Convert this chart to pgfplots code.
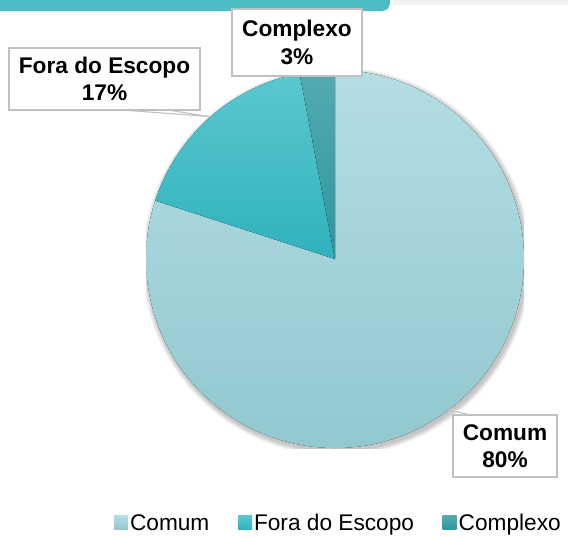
\documentclass[border=0pt]{standalone}
\usepackage{fontspec}
\setmainfont{Liberation Sans}
\usepackage{pgfplots}
\usepackage{pgfplotstable}
\pgfplotsset{compat=1.18}

\definecolor{top0}{HTML}{B3DEE3}
\definecolor{bot0}{HTML}{92C8CF}
\definecolor{top1}{HTML}{5BC7CF}
\definecolor{bot1}{HTML}{2FB2BD}
\definecolor{top2}{HTML}{55AAB1}
\definecolor{bot2}{HTML}{2D979F}
\definecolor{barteal}{HTML}{4ABDC7}
\definecolor{bandgray}{HTML}{F2F2F2}
\definecolor{boxgray}{HTML}{C0C0C0}

\pgfplotstableread{
label value
Comum 80
Fora 17
Complexo 3
}\piedata

\newcommand{\R}{141.75pt}

\begin{document}
\begin{tikzpicture}
\useasboundingbox (0pt,0pt) rectangle (426pt,-402pt);

% header remnants at the top
\begin{scope}[x=0.75pt, y=-0.75pt]
  \fill[barteal, rounded corners=6pt] (-20,-20) rectangle (390,11);
  \fill[bandgray] (393,-5) rectangle (580,5);
\end{scope}

\begin{axis}[
    at={(251.25pt,-194.25pt)}, anchor=center,
    scale only axis,
    width=283.5pt, height=283.5pt,
    xmin=-1, xmax=1, ymin=-1, ymax=1,
    hide axis,
    legend columns=3,
    legend cell align=left,
    legend style={
        at={(0.509,-0.199)}, anchor=center,
        draw=none, fill=none,
        font=\fontsize{17}{19}\selectfont,
        nodes={inner sep=1.5pt},
        /tikz/every odd column/.append style={column sep=0pt},
        /tikz/every even column/.append style={column sep=20pt},
    },
]

\pgfplotsextra{
  \path (axis cs:0,0) coordinate (C);
  % soft shadow
  \foreach \k in {1,...,8}{
    \fill[black, opacity=0.03] ([xshift=1.2pt, yshift=-1.8pt]C) circle[radius=\R+\k*0.5pt];
  }
  \pgfplotstablegetrowsof{\piedata}
  \pgfmathtruncatemacro\nrows{\pgfplotsretval-1}
  \gdef\startang{90}
  \foreach \i in {0,...,\nrows}{
    \pgfplotstablegetelem{\i}{value}\of\piedata
    \pgfmathsetmacro\endang{\startang-3.6*\pgfplotsretval}
    \fill[top color=top\i, bottom color=bot\i]
      (C) -- ++(\startang:\R) arc[start angle=\startang, end angle=\endang, radius=\R] -- cycle;
    \global\let\startang\endang
  }
}

\addlegendimage{legend image code/.code={\path[draw=none, top color=top0, bottom color=bot0] (0pt,-4.6pt) rectangle (10.5pt,5.9pt);}}
\addlegendentry{Comum}
\addlegendimage{legend image code/.code={\path[draw=none, top color=top1, bottom color=bot1] (0pt,-4.6pt) rectangle (10.5pt,5.9pt);}}
\addlegendentry{Fora do Escopo}
\addlegendimage{legend image code/.code={\path[draw=none, top color=top2, bottom color=bot2] (0pt,-4.6pt) rectangle (10.5pt,5.9pt);}}
\addlegendentry{Complexo}

\end{axis}

% data labels with leaders
\begin{scope}[x=0.75pt, y=-0.75pt]
  \draw[boxgray, line width=0.8pt, fill=white] (122,110) -- (209,116.5) -- (168,110);
  \draw[boxgray, line width=0.8pt, fill=white] (447,409) -- (470,415) -- (497,415);
  \tikzset{lbl/.style={draw=boxgray, line width=1pt, fill=white, align=center,
      font=\bfseries\fontsize{17}{20.5}\selectfont, inner sep=0pt}}
  \node[lbl, minimum width=143.25pt, minimum height=46.5pt] at (104.5,79) {Fora do Escopo\\17\%};
  \node[lbl, minimum width=97.5pt, minimum height=50.25pt] at (297,42.5) {Complexo\\3\%};
  \node[lbl, minimum width=78pt, minimum height=46.5pt] at (505,446) {Comum\\80\%};
\end{scope}
\end{tikzpicture}
\end{document}
